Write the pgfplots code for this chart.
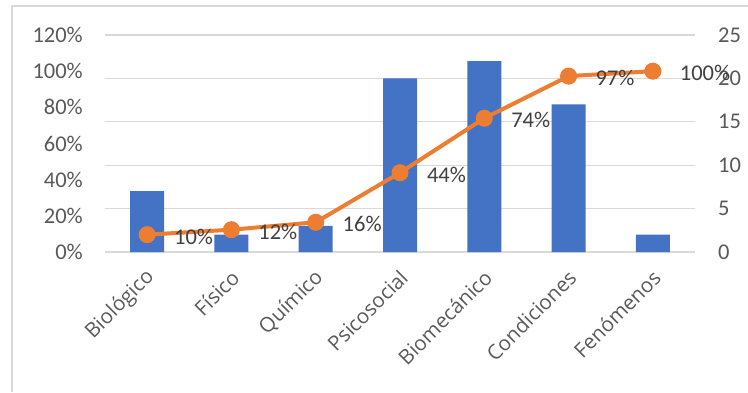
\documentclass[border=0pt]{standalone}
\usepackage{fontspec}
\setmainfont{Carlito}
\newfontfamily\catfont{Open Sans}
\usepackage{pgfplots}
\pgfplotsset{compat=1.18}
\definecolor{barblue}{HTML}{4472C4}
\definecolor{lineorange}{HTML}{ED7D31}
\definecolor{gridgray}{HTML}{D9D9D9}
\definecolor{ticktext}{HTML}{595959}
\definecolor{labeltext}{HTML}{404040}
\begin{document}
\begin{tikzpicture}[x=1bp,y=1bp]
\path[use as bounding box] (0,0) rectangle (748,392);
\draw[gridgray, line width=1.5bp] (12,0) -- (12,386) -- (748,386);
\begin{axis}[
  at={(105bp,140bp)}, anchor=south west,
  scale only axis, width=590bp, height=217bp,
  xmin=-0.5, xmax=6.5, ymin=0, ymax=25,
  yticklabel pos=right,
  ytick={0,5,10,15,20,25},
  yticklabels={0,5,10,15,20,25},
  ymajorgrids, grid style={gridgray, line width=1.2bp},
  xtick={0,1,2,3,4,5,6},
  xticklabels={Biológico,Físico,Químico,Psicosocial,Biomecánico,Condiciones,Fenómenos},
  axis line style={draw=none}, tick style={draw=none},
  yticklabel style={font=\fontsize{22.5bp}{26bp}\selectfont, color=ticktext, anchor=west, inner sep=0pt, xshift=23bp},
  xticklabel style={font=\catfont\fontsize{20.5bp}{24bp}\selectfont, color=ticktext, xshift=4bp, yshift=-22bp, rotate=45, anchor=east, inner sep=0pt},
]
\addplot[ybar, bar width=34bp, fill=barblue, draw=none] coordinates {
  (0,7) (1,2) (2,3) (3,20) (4,22) (5,17) (6,2)
};
\end{axis}
\begin{axis}[
  at={(105bp,140bp)}, anchor=south west,
  scale only axis, width=590bp, height=217bp,
  xmin=-0.5, xmax=6.5, ymin=0, ymax=1.2,
  ytick={0,0.2,0.4,0.6,0.8,1.0,1.2},
  yticklabels={0\%,20\%,40\%,60\%,80\%,100\%,120\%},
  xtick=\empty, clip=false,
  axis line style={draw=none}, tick style={draw=none},
  yticklabel style={font=\fontsize{22.5bp}{26bp}\selectfont, color=ticktext, anchor=east, inner sep=0pt, xshift=-22bp},
]
\addplot[lineorange, line width=4bp, mark=*, mark size=6.5bp,
  mark options={solid, fill=lineorange, draw=none},
  nodes near coords, point meta=explicit symbolic,
  every node near coord/.append style={anchor=west, inner sep=0pt, xshift=25bp, yshift=-2bp,
    font=\fontsize{22.5bp}{26bp}\selectfont, text=labeltext}]
coordinates {
  (0,0.0959)[10\%] (1,0.1233)[12\%] (2,0.1644)[16\%] (3,0.4384)[44\%]
  (4,0.7397)[74\%] (5,0.9726)[97\%] (6,1.0)[100\%]
};
\end{axis}
\end{tikzpicture}
\end{document}
